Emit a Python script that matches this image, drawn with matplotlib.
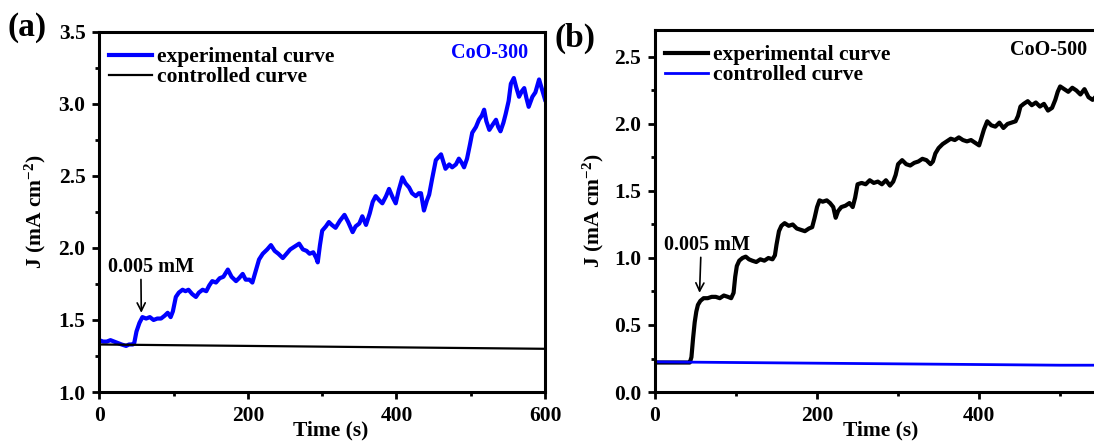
import matplotlib.pyplot as plt
from matplotlib.ticker import MultipleLocator

plt.rcParams['font.family'] = 'Liberation Serif'
plt.rcParams['font.weight'] = 'bold'
plt.rcParams['mathtext.fontset'] = 'custom'
plt.rcParams['mathtext.rm'] = 'Liberation Serif:bold'
plt.rcParams['mathtext.it'] = 'Liberation Serif:bold'
plt.rcParams['mathtext.bf'] = 'Liberation Serif:bold'

# panel (a) CoO-300 - (time, J)
pts_a = [(0, 1.36), (5, 1.35), (10, 1.35), (15, 1.36), (20, 1.35), (25, 1.34), (30, 1.33),
         (36, 1.32), (40, 1.33), (45, 1.33), (47, 1.34), (50, 1.42), (54, 1.48), (58, 1.52),
         (63, 1.51), (68, 1.52), (73, 1.50), (78, 1.51), (83, 1.51), (88, 1.53), (92, 1.55),
         (96, 1.52), (99, 1.56), (103, 1.66), (107, 1.69), (112, 1.71), (116, 1.70), (120, 1.71),
         (125, 1.68), (130, 1.66), (134, 1.69), (139, 1.71), (144, 1.70), (148, 1.74), (152, 1.77),
         (157, 1.76), (162, 1.79), (167, 1.80), (173, 1.85), (178, 1.80), (184, 1.77), (188, 1.79),
         (193, 1.82), (197, 1.78), (202, 1.78), (206, 1.76), (210, 1.83), (215, 1.92), (220, 1.96),
         (226, 1.99), (231, 2.02), (236, 1.98), (241, 1.96), (247, 1.93), (252, 1.96), (257, 1.99),
         (263, 2.01), (269, 2.03), (274, 1.99), (279, 1.98), (283, 1.96), (288, 1.97), (292, 1.93),
         (294, 1.90), (297, 2.02), (300, 2.12), (305, 2.15), (309, 2.18), (313, 2.16), (318, 2.14),
         (324, 2.19), (330, 2.23), (335, 2.18), (341, 2.11), (345, 2.15), (350, 2.17), (354, 2.22),
         (359, 2.16), (364, 2.24), (368, 2.32), (372, 2.36), (377, 2.33), (381, 2.31), (386, 2.36),
         (390, 2.41), (395, 2.35), (399, 2.31), (403, 2.40), (408, 2.49), (412, 2.45), (417, 2.42),
         (421, 2.38), (426, 2.36), (430, 2.38), (433, 2.38), (437, 2.26), (441, 2.33), (444, 2.37),
         (448, 2.48), (453, 2.61), (460, 2.65), (466, 2.55), (471, 2.58), (475, 2.56), (480, 2.58),
         (484, 2.62), (488, 2.59), (491, 2.56), (495, 2.62), (499, 2.72), (502, 2.80), (507, 2.84),
         (511, 2.89), (515, 2.92), (518, 2.96), (521, 2.88), (525, 2.82), (530, 2.86), (534, 2.89),
         (537, 2.84), (540, 2.81), (544, 2.87), (547, 2.93), (551, 3.02), (554, 3.14), (558, 3.18),
         (561, 3.12), (565, 3.05), (569, 3.09), (572, 3.11), (575, 3.04), (578, 2.98), (583, 3.05),
         (587, 3.08), (592, 3.17), (596, 3.10), (600, 3.03)]
t_a = [p[0] for p in pts_a]
j_a = [p[1] for p in pts_a]
t_ctrl_a = [0, 100, 200, 300, 400, 500, 600]
j_ctrl_a = [1.33, 1.325, 1.32, 1.315, 1.31, 1.305, 1.30]

# panel (b) CoO-500
pts_b = [(0, 0.22), (10, 0.22), (20, 0.22), (30, 0.22), (40, 0.22), (43, 0.22), (45, 0.26),
         (47, 0.40), (49, 0.52), (51, 0.60), (53, 0.65), (56, 0.68), (60, 0.70), (65, 0.70),
         (70, 0.71), (75, 0.71), (80, 0.70), (85, 0.72), (90, 0.71), (94, 0.70), (97, 0.74),
         (99, 0.86), (101, 0.94), (104, 0.98), (108, 1.00), (112, 1.01), (116, 0.99), (120, 0.98),
         (125, 0.97), (130, 0.99), (135, 0.98), (140, 1.00), (145, 0.99), (148, 1.02), (150, 1.10),
         (153, 1.20), (156, 1.24), (160, 1.26), (165, 1.24), (170, 1.25), (175, 1.22), (180, 1.21),
         (185, 1.20), (190, 1.22), (194, 1.23), (197, 1.30), (200, 1.38), (203, 1.43), (207, 1.42),
         (212, 1.43), (216, 1.41), (220, 1.38), (223, 1.30), (226, 1.35), (230, 1.38), (235, 1.39),
         (240, 1.41), (244, 1.38), (247, 1.45), (250, 1.55), (255, 1.56), (260, 1.55), (265, 1.58),
         (270, 1.56), (275, 1.57), (280, 1.55), (285, 1.58), (290, 1.54), (294, 1.57), (297, 1.62),
         (300, 1.70), (305, 1.73), (310, 1.70), (315, 1.69), (320, 1.71), (325, 1.72), (330, 1.74),
         (335, 1.73), (340, 1.70), (343, 1.72), (346, 1.78), (350, 1.82), (355, 1.85), (360, 1.87),
         (365, 1.89), (370, 1.88), (375, 1.90), (380, 1.88), (385, 1.87), (390, 1.88), (395, 1.86),
         (400, 1.84), (403, 1.90), (406, 1.96), (410, 2.02), (415, 1.99), (420, 1.98), (425, 2.01),
         (430, 1.97), (435, 2.00), (440, 2.01), (445, 2.02), (448, 2.06), (451, 2.13), (455, 2.15),
         (460, 2.17), (465, 2.14), (470, 2.16), (475, 2.13), (480, 2.15), (485, 2.10), (490, 2.12),
         (494, 2.18), (497, 2.24), (500, 2.28), (505, 2.26), (510, 2.24), (515, 2.27), (520, 2.25),
         (525, 2.22), (530, 2.26), (535, 2.20), (540, 2.18), (545, 2.21), (550, 2.22)]
t_b = [p[0] for p in pts_b]
j_b = [p[1] for p in pts_b]
t_ctrl_b = [0, 100, 200, 300, 400, 500, 550]
j_ctrl_b = [0.225, 0.22, 0.215, 0.21, 0.205, 0.20, 0.20]

fig = plt.figure(figsize=(10.94, 4.44), dpi=100)
ax1 = fig.add_axes([0.0908, 0.1171, 0.4074, 0.811])
ax2 = fig.add_axes([0.5987, 0.1171, 0.4074, 0.815])

def style(ax):
    for s in ax.spines.values():
        s.set_linewidth(2.2)
    ax.tick_params(which='major', direction='out', length=5, width=2, labelsize=15.5, pad=5)
    ax.tick_params(which='minor', direction='out', length=3, width=2)
    ax.xaxis.set_major_locator(MultipleLocator(200))
    ax.xaxis.set_minor_locator(MultipleLocator(100))
    ax.yaxis.set_major_locator(MultipleLocator(0.5))
    ax.yaxis.set_minor_locator(MultipleLocator(0.25))
    ax.set_xlabel('Time (s)', fontsize=15.5, fontweight='bold')
    ax.set_ylabel('J (mA cm$^{-2}$)', fontsize=15.5, fontweight='bold')

def add_legend(ax):
    ax.legend(loc='upper left', bbox_to_anchor=(0.0, 0.985), frameon=False, fontsize=15.5,
              handlelength=2.0, handletextpad=0.23, labelspacing=0.0, borderaxespad=0.0,
              borderpad=0.45)

ax1.plot(t_a, j_a, color='#0000ff', lw=3, label='experimental curve')
ax1.plot(t_ctrl_a, j_ctrl_a, color='black', lw=1.6, label='controlled curve')
ax1.set_xlim(0, 600)
ax1.set_ylim(1.0, 3.5)
style(ax1)
add_legend(ax1)
ax1.text(0.962, 0.942, 'CoO-300', transform=ax1.transAxes, ha='right', va='center',
         color='#0000ff', fontsize=14.5)
ax1.annotate('0.005 mM', xy=(56.5, 1.55), xytext=(12, 1.87), fontsize=14.5, va='center',
             arrowprops=dict(arrowstyle='->', color='black', lw=1.2, shrinkA=0, shrinkB=0,
                             relpos=(0.38, 0.0)))
ax1.xaxis.set_label_coords(0.52, -0.08)
ax1.yaxis.set_label_coords(-0.115, 0.5)

ax2.plot(t_b, j_b, color='black', lw=3, label='experimental curve')
ax2.plot(t_ctrl_b, j_ctrl_b, color='#0000ff', lw=2, label='controlled curve')
ax2.set_xlim(0, 550)
ax2.set_ylim(0, 2.7)
style(ax2)
add_legend(ax2)
ax2.text(0.9686, 0.945, 'CoO-500', transform=ax2.transAxes, ha='right', va='center',
         color='black', fontsize=14.5)
ax2.annotate('0.005 mM', xy=(55, 0.74), xytext=(11, 1.10), fontsize=14.5, va='center',
             arrowprops=dict(arrowstyle='->', color='black', lw=1.2, shrinkA=0, shrinkB=0,
                             relpos=(0.43, 0.0)))
ax2.xaxis.set_label_coords(0.507, -0.08)
ax2.yaxis.set_label_coords(-0.11, 0.5)

fig.text(0.007, 0.937, '(a)', fontsize=24, fontweight='bold', va='center')
fig.text(0.507, 0.914, '(b)', fontsize=24, fontweight='bold', va='center')

fig.savefig('out.png', dpi=100)
